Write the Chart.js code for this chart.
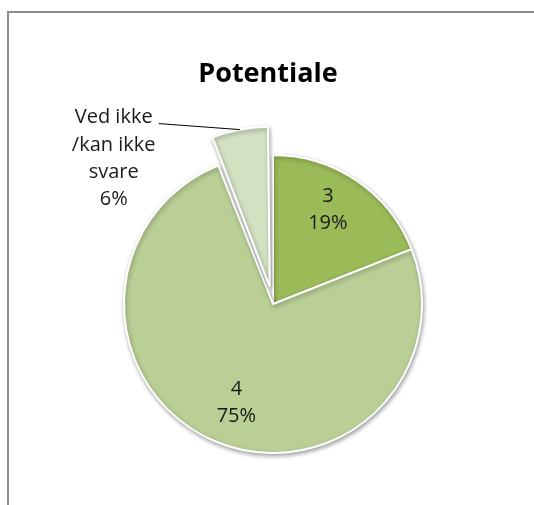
<!DOCTYPE html>
<html>
<head>
<meta charset="utf-8">
<script src="https://cdn.jsdelivr.net/npm/chart.js@4/dist/chart.umd.min.js"></script>
<style>
  html, body { margin: 0; padding: 0; background: #ffffff; overflow: hidden; }
  #frame { position: absolute; left: 7px; top: 11px; width: 700px; height: 700px; border: 2px solid #8c8c8c; box-sizing: border-box; }
  #c { position: absolute; left: 0; top: 0; }
</style>
</head>
<body>
<div id="frame"></div>
<canvas id="c" width="534" height="505"></canvas>
<script>
const title = 'Potentiale';
const categories = ['3', '4', 'Ved ikke /kan ikke svare'];
const labelLines = [['3'], ['4'], ['Ved ikke', '/kan ikke', 'svare']];
const values = [19, 75, 6];
const colors = ['#9bbb59', '#b9cf96', '#d3e0c2'];
const explode = [0, 0, 70];

const total = values.reduce((a, b) => a + b, 0);
const pct = values.map(v => Math.round(v / total * 100) + '%');

// actual pixel shift that Chart.js applies for an arc offset
function arcShift(arc, off) {
  const circ = arc.endAngle - arc.startAngle;
  const fix = 1 - Math.sin(Math.min(Math.PI, circ || 0));
  return off / 4 * (1 + fix);
}

const shadowPlugin = {
  id: 'shadow',
  beforeDatasetsDraw(chart) {
    const ctx = chart.ctx;
    ctx.save();
    ctx.shadowColor = 'rgba(0,0,0,0.35)';
    ctx.shadowBlur = 4;
    ctx.shadowOffsetX = 1;
    ctx.shadowOffsetY = 2;
  },
  afterDatasetsDraw(chart) {
    chart.ctx.restore();
  }
};

const labelPlugin = {
  id: 'labels',
  afterDraw(chart) {
    const ctx = chart.ctx;
    ctx.save();
    // title
    ctx.fillStyle = '#000000';
    ctx.font = 'bold 27px "Open Sans", "Liberation Sans", sans-serif';
    ctx.textAlign = 'center';
    ctx.textBaseline = 'alphabetic';
    ctx.fillText(title, 268, 82);

    const meta = chart.getDatasetMeta(0);
    ctx.font = '20px "Open Sans", "Liberation Sans", sans-serif';
    ctx.fillStyle = '#1a1a1a';
    ctx.textBaseline = 'middle';
    meta.data.forEach((arc, i) => {
      const mid = (arc.startAngle + arc.endAngle) / 2;
      const off = arcShift(arc, explode[i]);
      const cx = arc.x + Math.cos(mid) * off;
      const cy = arc.y + Math.sin(mid) * off;
      const lines = labelLines[i].concat([pct[i]]);
      if (explode[i] === 0) {
        const r = arc.outerRadius * 0.72;
        const lx = cx + Math.cos(mid - 0.06) * r;
        const ly = cy + Math.sin(mid - 0.06) * r;
        const lh = 27;
        const y0 = ly - (lines.length - 1) * lh / 2 - 2;
        lines.forEach((t, k) => ctx.fillText(t, lx, y0 + k * lh));
      } else {
        // outside label with leader line
        const ex = cx + Math.cos(mid) * arc.outerRadius;
        const ey = cy + Math.sin(mid) * arc.outerRadius;
        ctx.strokeStyle = '#000000';
        ctx.lineWidth = 1;
        ctx.beginPath();
        ctx.moveTo(ex - 81, ey - 6);
        ctx.lineTo(ex, ey);
        ctx.stroke();
        const lx = ex - 126;
        const lh = 27.3;
        const y0 = ey - 12;
        lines.forEach((t, k) => ctx.fillText(t, lx, y0 + k * lh));
      }
    });
    ctx.restore();
  }
};

new Chart(document.getElementById('c'), {
  type: 'pie',
  data: {
    labels: categories,
    datasets: [{
      data: values,
      backgroundColor: colors,
      borderColor: '#ffffff',
      borderWidth: 2,
      offset: explode
    }]
  },
  options: {
    responsive: false,
    animation: false,
    layout: { padding: { left: 88, right: 76, top: 119, bottom: 16 } },
    plugins: {
      legend: { display: false },
      tooltip: { enabled: false },
      title: { display: false }
    }
  },
  plugins: [shadowPlugin, labelPlugin]
});
</script>
</body>
</html>
